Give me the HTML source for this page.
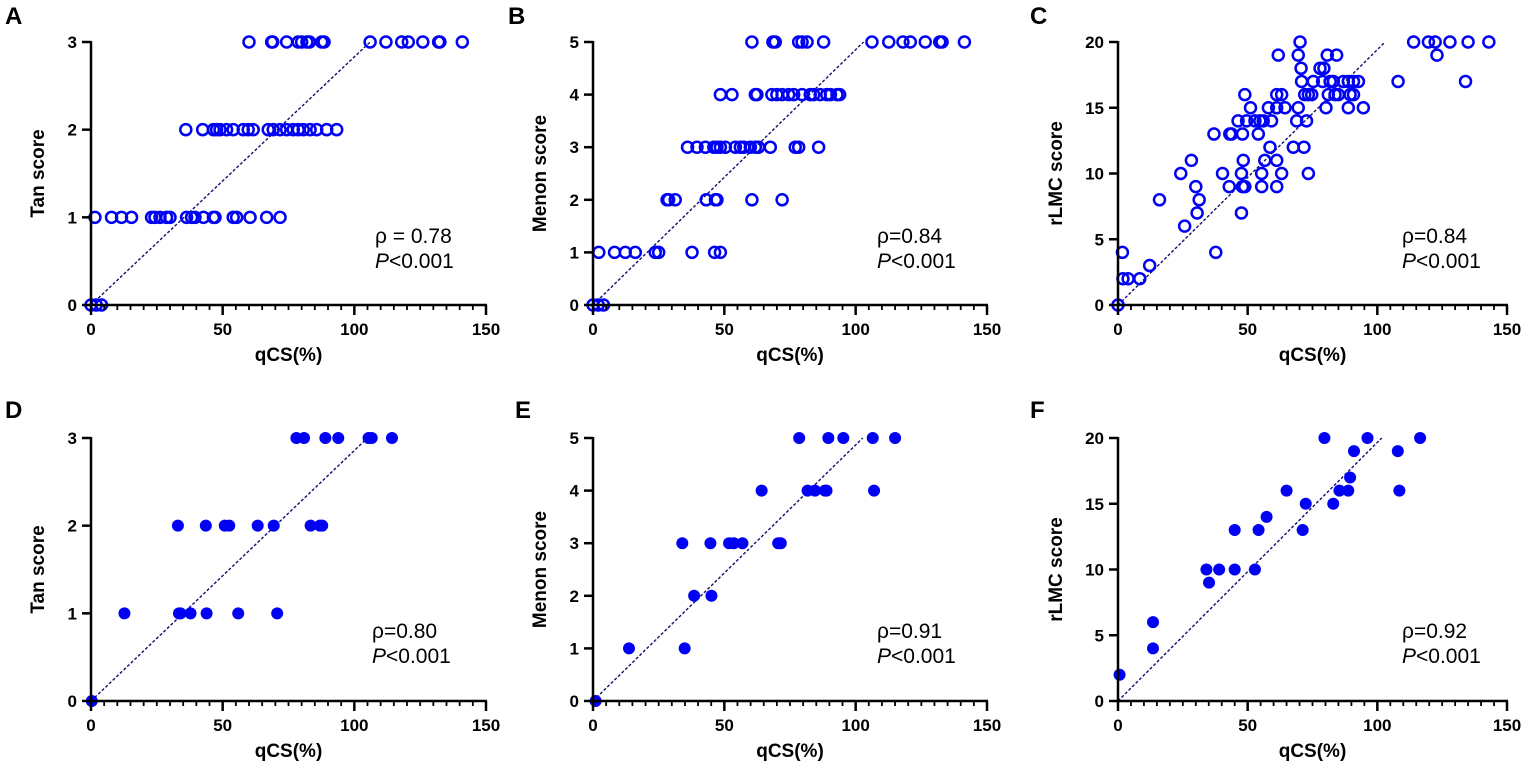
<!DOCTYPE html>
<html><head><meta charset="utf-8"><style>
html,body{margin:0;padding:0;background:#fff;}
svg{display:block;font-family:"Liberation Sans",Arial,sans-serif;}
</style></head><body>
<svg id="fig" width="1535" height="778" viewBox="0 0 1535 778" xmlns="http://www.w3.org/2000/svg"></svg>
<script>
// ---- data ----
const aX3=[60,68.6,69,74.3,78.7,80,82,83,87.6,88.5,106,112,118,120.5,126,132,132.5,141];
const aX2=[36,42.4,46.5,47.7,49,51.5,54,57.8,59.7,61.6,67.3,69.2,71.8,74.3,76.8,78.7,80.6,83.2,85.7,89.5,93.3];
const aX1=[1.5,7.8,11.6,15.4,23,24.3,26.2,28.7,30,36.3,38.2,39.5,42.7,46.5,47.1,54,55.3,60.4,66.7,71.8];
const aX0=[0,2,4];
const bX5=[60.5,68.5,69.4,78.3,79.6,81.5,87.8,106.2,112.6,118,120.8,126.5,132,132.9,141.4];
const bX4=[48.5,52.9,61.8,62.4,68.1,70,72,74.5,76.4,79.6,82.7,84,86.5,89,90.4,92.9,93.9];
const bX3=[36,39.6,42.8,46,47.2,48.5,50.4,54.2,56.1,57.4,59.9,61.8,63,67.5,77,78.3,85.9];
const bX2=[28.2,28.8,31.3,43.1,46.6,47.2,60.5,72];
const bX1=[2.2,8.2,12.3,16.1,23.7,25,37.7,46.3,48.5];
const bX0=[0,2,4];
const cX=[0,1.7,1.9,3.9,8.4,12.2,16,24.2,25.7,28.3,30,31.3,30.5,37,37.7,40.3,42.9,43.1,43.8,46.3,48,47.6,47.6,48,48.9,48.3,48.9,49.6,51.1,52.8,54.1,54.7,55.4,55.4,56,56.6,58.6,59.2,58,61.2,61.2,61.2,61.8,61.2,63.1,63.1,64.4,67.6,68.9,69.5,69.5,70.2,70.6,70.8,71.7,72.7,73.4,72,73.4,74.7,75.3,77.9,78.9,79.4,80.2,80.7,81.1,81.8,83,83.7,84.3,85,86.9,88.8,88.8,89.5,90.8,90.8,92.7,94.6,108,114,119.7,122.3,123,128,134,135,143];
const cY=[0,4,2,2,2,3,8,10,6,11,9,8,7,13,4,10,9,13,13,14,13,10,7,9,9,11,16,14,15,14,13,14,10,9,14,11,12,14,15,15,11,9,19,16,16,10,15,12,14,15,19,20,18,17,12,14,10,16,16,16,17,18,17,18,15,19,16,17,17,16,19,16,17,15,17,16,16,17,17,15,17,20,20,20,19,20,17,20,20];
const dX=[0.3,12.7,33.4,34,37.8,43.9,55.9,70.7,33,43.6,50.8,52.5,63.3,69.4,83.4,86.9,87.8,78,80.9,89,93.9,105.4,106.6,114.3];
const dY=[0,1,1,1,1,1,1,1,2,2,2,2,2,2,2,2,2,3,3,3,3,3,3,3];
const eX=[1,13.7,34.9,38.5,45.1,34,44.7,51.8,53.6,56.9,70.5,71.5,64.2,81.7,84.5,88.3,88.9,107,78.5,89.6,95.3,106.5,115];
const eY=[0,1,1,2,2,3,3,3,3,3,3,3,4,4,4,4,4,4,5,5,5,5,5];
const fX=[0.6,13.5,13.5,34.1,35.1,39,45,45,52.8,54.2,57.3,65,71.2,72.4,79.6,83,85.4,88.8,89.5,91,96.2,107.9,108.5,116.5];
const fY=[2,4,6,10,9,10,10,13,10,13,14,16,13,15,20,15,16,16,17,19,20,19,16,20];
const xTicks=[0,50,100,150];
const yTicksTan=[0,1,2,3];
const yTicksMenon=[0,1,2,3,4,5];
const yTicksRLMC=[0,5,10,15,20];

const NS="http://www.w3.org/2000/svg";
const svg=document.getElementById('fig');
function mk(tag,attrs,parent){const e=document.createElementNS(NS,tag);for(const k in attrs)e.setAttribute(k,attrs[k]);(parent||svg).appendChild(e);return e;}
function rows(arrs){const xs=[],ys=[];arrs.forEach((a,i)=>a.forEach(v=>{xs.push(v);ys.push(i);}));return [xs,ys];}

function panel(p){
  const g=mk('g',{});
  
  
  const sx=v=>p.x0+(v/150)*(p.x1-p.x0);
  const sy=v=>p.y0-(v/p.ymax)*(p.y0-p.yt);
  const L=mk('text',{x:p.lx,y:p.ly,'font-size':24,'font-weight':'bold',fill:'#000'},g);L.textContent=p.letter;
  
  
  const dl=mk('line',{x1:sx(0),y1:sy(0),x2:sx(p.lineEnd),y2:sy(p.ymax),stroke:'#10106e','stroke-width':1.4,'stroke-dasharray':'3,2'},g);
  
  
  for(let i=0;i<p.xs.length;i++){
    const c=mk('circle',{cx:sx(p.xs[i]),cy:sy(p.ys[i]),r:p.open?5.5:6,fill:p.open?'none':'#0000f5',stroke:'#0000f5','stroke-width':p.open?2.5:0},g);
    
    
  }
  const ax=mk('g',{stroke:'#000','stroke-width':2.5,fill:'none'},g);
  
  
  mk('line',{x1:p.x0,y1:p.yt-1,x2:p.x0,y2:p.y0+1},ax);
  mk('line',{x1:p.x0-1,y1:p.y0,x2:p.x1+1,y2:p.y0},ax);
  for(let v=0;v<=150;v+=5){
    const major=v%50===0;
    mk('line',{x1:sx(v),y1:p.y0,x2:sx(v),y2:p.y0+(major?10:5),'stroke-width':major?2.5:1.8},ax);
  }
  xTicks.forEach(v=>{const t=mk('text',{x:sx(v),y:p.y0+30,'font-size':17,'font-weight':'bold','text-anchor':'middle',fill:'#000'},g);t.textContent=v;
    
    });
  p.yt_.forEach(v=>{mk('line',{x1:p.x0-9,y1:sy(v),x2:p.x0,y2:sy(v)},ax);
    const t=mk('text',{x:p.x0-14,y:sy(v)+6,'font-size':17,'font-weight':'bold','text-anchor':'end',fill:'#000'},g);t.textContent=v;
    
    });
  const xt=mk('text',{x:(p.x0+p.x1)/2,y:p.y0+56,'font-size':19,'font-weight':'bold','text-anchor':'middle',fill:'#000'},g);xt.textContent='qCS(%)';
  
  
  const ytx=p.x0-p.ytOff, ycy=(p.y0+p.yt)/2;
  const yt=mk('text',{x:ytx,y:ycy,'font-size':19,'font-weight':'bold','text-anchor':'middle',fill:'#000',transform:`rotate(-90 ${ytx} ${ycy})`},g);yt.textContent=p.ytitle;
  
  
  const r=mk('text',{x:p.ax,y:p.ay,'font-size':21,fill:'#000'},g);r.textContent=p.rho;
  
  
  const pv=mk('text',{x:p.ax,y:p.ay+25,'font-size':21,fill:'#000'},g);
  
  
  const it=mk('tspan',{'font-style':'italic'},pv);it.textContent='P';
  const rest=mk('tspan',{},pv);rest.textContent='<0.001';
}
const [aXs,aYs]=rows([aX0,aX1,aX2,aX3]);
const [bXs,bYs]=rows([bX0,bX1,bX2,bX3,bX4,bX5]);
const topRow={y0:305,yt:42}, botRow={y0:701,yt:438};
panel({letter:'A',lx:5,ly:24,x0:91,x1:486,...topRow,ymax:3,yt_:yTicksTan,xs:aXs,ys:aYs,open:true,lineEnd:106,ytitle:'Tan score',ytOff:47,rho:'ρ = 0.78',ax:375,ay:243});
panel({letter:'B',lx:508,ly:24,x0:593,x1:987,...topRow,ymax:5,yt_:yTicksMenon,xs:bXs,ys:bYs,open:true,lineEnd:103,ytitle:'Menon score',ytOff:47,rho:'ρ=0.84',ax:877,ay:243});
panel({letter:'C',lx:1030,ly:24,x0:1118,x1:1507,...topRow,ymax:20,yt_:yTicksRLMC,xs:cX,ys:cY,open:true,lineEnd:103,ytitle:'rLMC score',ytOff:56,rho:'ρ=0.84',ax:1402,ay:243});
panel({letter:'D',lx:5,ly:418,x0:91,x1:486,...botRow,ymax:3,yt_:yTicksTan,xs:dX,ys:dY,open:false,lineEnd:105,ytitle:'Tan score',ytOff:47,rho:'ρ=0.80',ax:372,ay:638});
panel({letter:'E',lx:515,ly:418,x0:593,x1:987,...botRow,ymax:5,yt_:yTicksMenon,xs:eX,ys:eY,open:false,lineEnd:102.7,ytitle:'Menon score',ytOff:47,rho:'ρ=0.91',ax:877,ay:638});
panel({letter:'F',lx:1030,ly:418,x0:1118,x1:1507,...botRow,ymax:20,yt_:yTicksRLMC,xs:fX,ys:fY,open:false,lineEnd:101.7,ytitle:'rLMC score',ytOff:56,rho:'ρ=0.92',ax:1402,ay:638});
</script>
</body></html>
